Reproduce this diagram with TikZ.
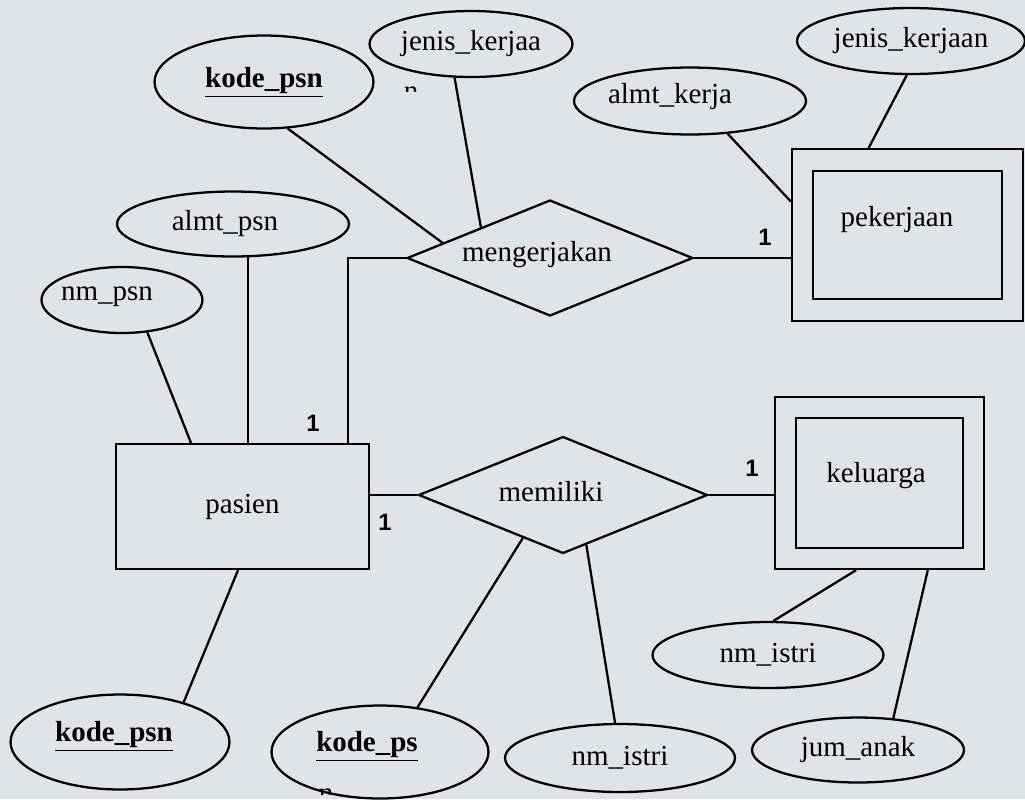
\documentclass[tikz,border=0pt]{standalone}
\usepackage{fontspec}
\setmainfont{Liberation Serif}
\newfontfamily\cardfont{Liberation Sans}
\usetikzlibrary{shapes.geometric}
\definecolor{marble}{RGB}{226,227,230}

\begin{document}
\begin{tikzpicture}[
    x=0.02cm, y=-0.02cm,
    every node/.style={font=\fontsize{16.5}{19}\selectfont},
    attr/.style={draw, ellipse, line width=1.3pt, inner sep=0pt},
    keyattr/.style={attr, font=\fontsize{16.5}{19}\selectfont\bfseries},
    ent/.style={draw, rectangle, line width=1.3pt, inner sep=0pt},
    rel/.style={draw, diamond, aspect=2.5, line width=1.3pt, inner sep=0pt},
    card/.style={font=\cardfont\bfseries\fontsize{13.5}{16}\selectfont},
    ln/.style={line width=1.3pt}
  ]
    \fill[marble] (0,0) rectangle (1025,799);
    \useasboundingbox (0,0) rectangle (1025,799);

    % entitas
    \node[ent, minimum width=5.06cm, minimum height=2.5cm] (pasien) at (242.5,506.5) {pasien};
    \node[ent, minimum width=4.62cm, minimum height=3.44cm] (pekerjaan) at (907.5,235) {};
    \node[ent, minimum width=3.78cm, minimum height=2.56cm,
          label={[xshift=-0.21cm, yshift=0.3cm]center:pekerjaan}] (pekerjaanIn) at (pekerjaan.center) {};
    \node[ent, minimum width=4.18cm, minimum height=3.44cm] (keluarga) at (879.5,483) {};
    \node[ent, minimum width=3.34cm, minimum height=2.6cm,
          label={[xshift=-0.07cm, yshift=0.14cm]center:keluarga}] (keluargaIn) at (keluarga.center) {};

    % relasi
    \node[rel, minimum width=5.72cm, minimum height=2.32cm,
          label={[xshift=-0.26cm, yshift=0.06cm]center:mengerjakan}] (mengerjakan) at (550,258) {};
    \node[rel, minimum width=5.78cm, minimum height=2.34cm,
          label={[xshift=-0.24cm, yshift=0.06cm]center:memiliki}] (memiliki) at (563,495) {};

    % atribut
    \node[keyattr, minimum width=4.38cm, minimum height=1.86cm] (kodepsnA) at (264,82) {\underline{kode\_psn}};
    \node[attr, minimum width=4.06cm, minimum height=1.32cm] (jeniskerjaa) at (471,44) {jenis\_kerjaa};
    \node[attr, minimum width=4.56cm, minimum height=1.32cm] (jeniskerjaan) at (911,41) {jenis\_kerjaan};
    \node[attr, minimum width=4.64cm, minimum height=1.34cm,
          label={[xshift=-0.4cm, yshift=0.08cm]center:almt\_kerja}] (almtkerja) at (690,101) {};
    \node[attr, minimum width=4.64cm, minimum height=1.3cm,
          label={[xshift=-0.16cm]center:almt\_psn}] (almtpsn) at (233,224) {};
    \node[attr, minimum width=3.22cm, minimum height=1.32cm,
          label={[xshift=-0.3cm, yshift=0.06cm]center:nm\_psn}] (nmpsn) at (122,300) {};
    \node[keyattr, minimum width=4.38cm, minimum height=1.9cm,
          label={[xshift=-0.12cm, yshift=0.12cm]center:{\bfseries\underline{kode\_psn}}}] (kodepsnB) at (120,742) {};
    \node[keyattr, minimum width=4.34cm, minimum height=1.86cm,
          label={[xshift=-0.26cm, yshift=0.12cm]center:{\bfseries\underline{kode\_ps}}}] (kodeps) at (380,752) {};
    \node[attr, minimum width=4.6cm, minimum height=1.36cm] (nmistriB) at (620,758) {nm\_istri};
    \node[attr, minimum width=4.62cm, minimum height=1.32cm] (nmistriA) at (768,655) {nm\_istri};
    \node[attr, minimum width=4.24cm, minimum height=1.3cm] (jumanak) at (858,750) {jum\_anak};

    % sisa huruf yang terpotong
    \begin{scope}
      \clip (395,84) rectangle (430,91);
      \node (jkSisa) at (411,94) {n};
    \end{scope}
    \begin{scope}
      \clip (312,788) rectangle (340,794);
      \node (kpSisa) at (326,796) {n};
    \end{scope}

    % kardinalitas
    \node[card] (k1) at (313,423) {1};
    \node[card] (k2) at (765,237) {1};
    \node[card] (k3) at (385,522) {1};
    \node[card] (k4) at (752,468) {1};

    \draw[ln] (kodepsnA.-63) -- (mengerjakan.172);
    \draw[ln] (jeniskerjaa.-116) -- (mengerjakan.156);
    \draw[ln] (mengerjakan.east) -- (mengerjakan.east -| pekerjaan.west);
    \draw[ln] (almtkerja.-41) -- (pekerjaan.164);
    \draw[ln] (jeniskerjaan.-97) -- (pekerjaan.114);
    \draw[ln] (almtpsn.-66) -- (almtpsn.-66 |- pasien.north);
    \draw[ln] (nmpsn.-52) -- (pasien.129);
    \draw[ln] ([xshift=-0.44cm]pasien.north east) |- (mengerjakan.west);
    \draw[ln] (pasien.east |- memiliki.west) -- (memiliki.west);
    \draw[ln] (memiliki.east) -- (memiliki.east -| keluarga.west);
    \draw[ln] (pasien.-94) -- (kodepsnB.32);
    \draw[ln] (memiliki.-133) -- (kodeps.50);
    \draw[ln] (memiliki.-65) -- (nmistriB.98);
    \draw[ln] (keluarga.-105) -- (nmistriA.81);
    \draw[ln] (keluarga.-61) -- (jumanak.42);
  \end{tikzpicture}
\end{document}
